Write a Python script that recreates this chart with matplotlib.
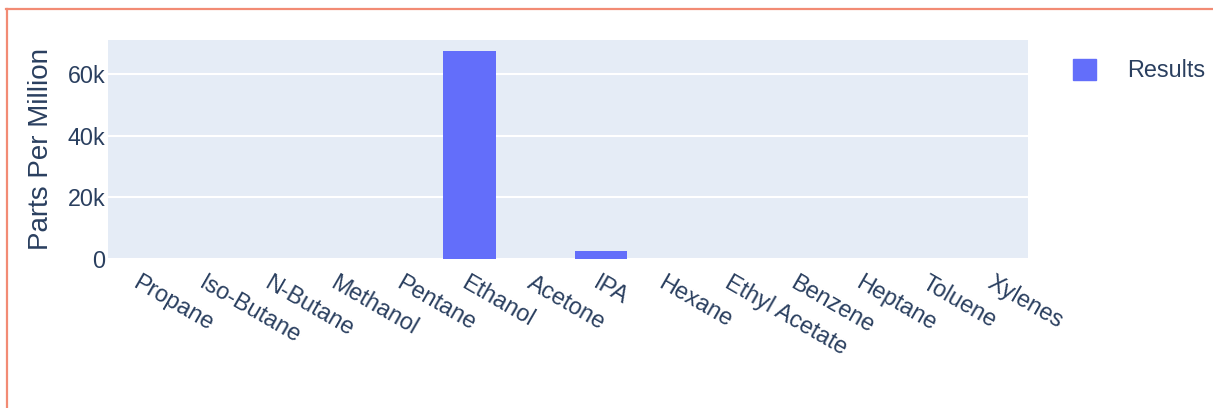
import matplotlib
matplotlib.use("Agg")
import matplotlib.pyplot as plt
from matplotlib.patches import Patch
from matplotlib.lines import Line2D

# ---- data ----
categories = ["Propane", "Iso-Butane", "N-Butane", "Methanol", "Pentane", "Ethanol",
              "Acetone", "IPA", "Hexane", "Ethyl Acetate", "Benzene", "Heptane",
              "Toluene", "Xylenes"]
results = [0, 0, 0, 0, 0, 67600, 0, 2700, 0, 0, 0, 0, 0, 0]
y_ticks = [0, 20000, 40000, 60000]
y_ticklabels = ["0", "20k", "40k", "60k"]
series_name = "Results"
y_title = "Parts Per Million"

W, H = 1213, 408
DPI = 100
plt.rcParams['font.family'] = ['Liberation Sans', 'DejaVu Sans']
TXT = "#2a3f5f"
BAR = "#636efa"
BG = "#e5ecf6"
FS = 16.8

fig = plt.figure(figsize=(W / DPI, H / DPI), dpi=DPI)
fig.patch.set_facecolor("white")

# plot area in pixel coordinates
x0, x1, y_top, y_bot = 108, 1028, 39.5, 259
ax = fig.add_axes([x0 / W, (H - y_bot) / H, (x1 - x0) / W, (y_bot - y_top) / H])
ax.set_facecolor(BG)
for s in ax.spines.values():
    s.set_visible(False)

xs = list(range(len(categories)))
ax.bar(xs, results, width=0.8, color=BAR, zorder=3, label=series_name)
ax.set_xlim(-0.5, len(categories) - 0.5)
ax.set_ylim(0, 71200)

ax.set_yticks(y_ticks)
ax.set_yticklabels(y_ticklabels)
ax.yaxis.grid(True, color="white", linewidth=1.5, zorder=1)
ax.set_axisbelow(True)
ax.tick_params(axis="y", length=0, pad=2, labelsize=FS, labelcolor=TXT)

ax.set_xticks(xs)
ax.set_xticklabels(categories, rotation=-30, ha="left", rotation_mode="anchor")
ax.tick_params(axis="x", length=0, pad=9, labelsize=FS, labelcolor=TXT)

ax.set_ylabel(y_title, fontsize=20, color=TXT, labelpad=10)

# legend
handle = Patch(facecolor=BAR, edgecolor=BAR)
fig.legend([handle], [series_name], loc="upper left",
           bbox_to_anchor=(1073 / W, 1 - 59 / H), frameon=False,
           fontsize=FS, labelcolor=TXT, handlelength=1.0, handleheight=1.0,
           handletextpad=1.3, borderpad=0, borderaxespad=0)

# screenshot frame
frame_col = "#f28b74"
fig.add_artist(Line2D([6 / W, 1], [1 - 9 / H, 1 - 9 / H], color=frame_col, linewidth=1.6,
                      transform=fig.transFigure))
fig.add_artist(Line2D([7 / W, 7 / W], [0, 1 - 9 / H], color=frame_col, linewidth=1.6,
                      transform=fig.transFigure))

fig.savefig("out.png", dpi=DPI, facecolor="white")
